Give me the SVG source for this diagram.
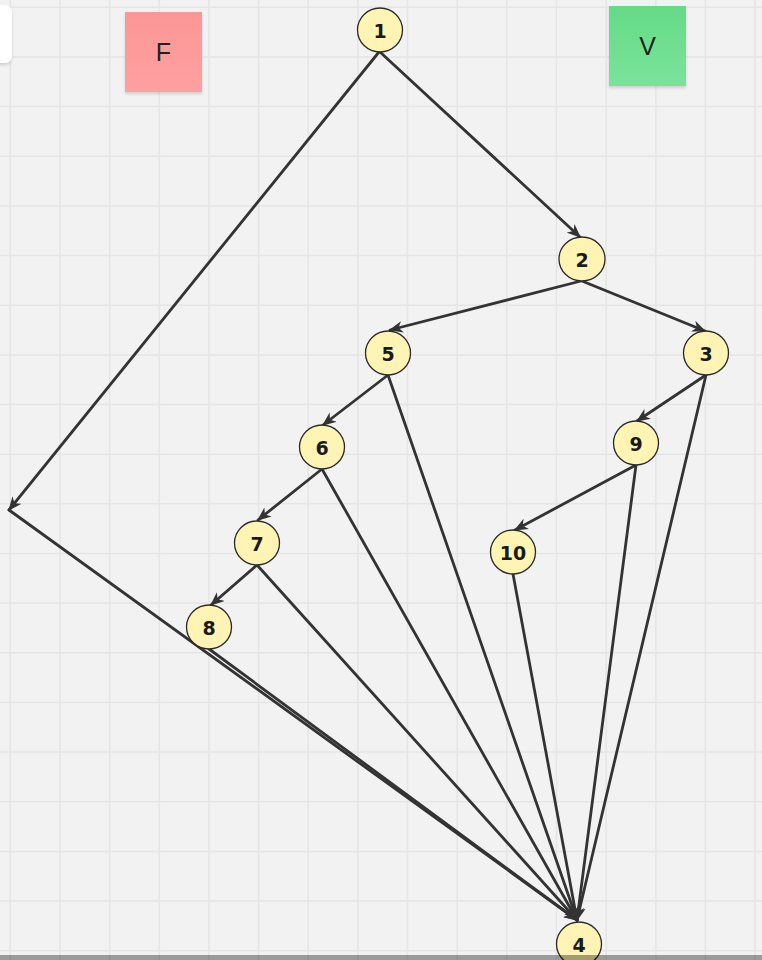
<svg xmlns="http://www.w3.org/2000/svg" width="762" height="960" viewBox="0 0 762 960">
<defs>
<style>
.grid{stroke:#e5e5e5;stroke-width:1.5;fill:none}
.node ellipse{fill:#fff4b3;stroke:#2a2a2a;stroke-width:1.3}
.node text{font-family:"DejaVu Sans",sans-serif;font-weight:bold;font-size:19px;fill:#1a1a1a;text-anchor:middle;dominant-baseline:central}
.sticky text{font-family:"Liberation Sans",Arial,sans-serif;font-size:25px;fill:#222;text-anchor:middle;dominant-baseline:central}
#edges path{fill:none;stroke:#333;stroke-width:2.8;stroke-linecap:round}
.arr{marker-end:url(#ah)}
</style>
<marker id="ah" markerUnits="userSpaceOnUse" viewBox="0 0 12 10" refX="11" refY="5" markerWidth="14" markerHeight="12" orient="auto">
<path d="M0,0 L12,5 L0,10 L3.5,5 Z" fill="#333"/>
</marker>
<linearGradient id="gF" x1="0" y1="0" x2="0" y2="1"><stop offset="0" stop-color="#fb9696"/><stop offset="1" stop-color="#ffa0a0"/></linearGradient>
<linearGradient id="gV" x1="0" y1="0" x2="0" y2="1"><stop offset="0" stop-color="#66da87"/><stop offset="1" stop-color="#79e39a"/></linearGradient>
<filter id="sh" x="-20%" y="-20%" width="140%" height="150%"><feDropShadow dx="0" dy="2" stdDeviation="1.5" flood-color="#000" flood-opacity="0.15"/></filter>
</defs>
<rect width="762" height="960" fill="#f2f2f2"/>
<path class="grid" d="M10.3,0V960M60,0V960M109.6,0V960M159.3,0V960M208.9,0V960M258.6,0V960M308.2,0V960M357.9,0V960M407.5,0V960M457.2,0V960M506.8,0V960M556.5,0V960M606.1,0V960M655.8,0V960M705.4,0V960M755,0V960M0,7.3H762M0,57H762M0,106.6H762M0,156.3H762M0,205.9H762M0,255.6H762M0,305.2H762M0,354.9H762M0,404.5H762M0,454.2H762M0,503.8H762M0,553.5H762M0,603.1H762M0,652.8H762M0,702.4H762M0,752H762M0,801.7H762M0,851.4H762M0,901H762M0,950.7H762"/>
<rect x="-10" y="5" width="22" height="58" rx="7" fill="#fff" filter="url(#sh)"/>
<g id="stickyF" class="sticky"><rect x="125" y="12" width="77" height="80" fill="url(#gF)" filter="url(#sh)"/><text x="163.5" y="52">F</text></g>
<g id="stickyV" class="sticky"><rect x="609" y="6" width="77" height="80" fill="url(#gV)" filter="url(#sh)"/><text x="647.5" y="46">V</text></g>
<g id="edges">
<path class="arr" d="M379,52 L9,510"/>
<path class="arr" d="M9,510 L577,920"/>
<path class="arr" d="M380,52 L580,237"/>
<path class="arr" d="M581,281 L390,330"/>
<path class="arr" d="M582,281 L705,331"/>
<path class="arr" d="M388,375 L323,425"/>
<path class="arr" d="M388,375 L577,920"/>
<path class="arr" d="M706,375 L637,421"/>
<path class="arr" d="M706,375 L577,920"/>
<path class="arr" d="M322,469 L258,520"/>
<path class="arr" d="M322,469 L577,920"/>
<path class="arr" d="M636,465 L515,530"/>
<path class="arr" d="M636,465 L577,920"/>
<path class="arr" d="M257,565 L211,605"/>
<path class="arr" d="M257,565 L577,920"/>
<path class="arr" d="M209,649 L577,920"/>
<path class="arr" d="M513,574 L577,920"/>
</g>
<g id="n1" class="node"><ellipse cx="380" cy="30" rx="22.5" ry="22"/><text x="380" y="31">1</text></g>
<g id="n2" class="node"><ellipse cx="582" cy="259" rx="23" ry="22"/><text x="582" y="260">2</text></g>
<g id="n3" class="node"><ellipse cx="706" cy="353" rx="22.5" ry="22"/><text x="706" y="354">3</text></g>
<g id="n5" class="node"><ellipse cx="388" cy="353" rx="22.5" ry="22"/><text x="388" y="354">5</text></g>
<g id="n6" class="node"><ellipse cx="322" cy="447" rx="22.5" ry="22"/><text x="322" y="448">6</text></g>
<g id="n7" class="node"><ellipse cx="257" cy="543" rx="22.5" ry="22"/><text x="257" y="544">7</text></g>
<g id="n8" class="node"><ellipse cx="209" cy="627" rx="22.5" ry="22"/><text x="209" y="628">8</text></g>
<g id="n9" class="node"><ellipse cx="636" cy="443" rx="22.5" ry="22"/><text x="636" y="444">9</text></g>
<g id="n10" class="node"><ellipse cx="513" cy="552" rx="22.5" ry="22"/><text x="513" y="553">10</text></g>
<g id="n4" class="node"><ellipse cx="579" cy="944" rx="22.5" ry="22"/><text x="579" y="945">4</text></g>
<rect x="0" y="955" width="762" height="5" fill="#000" opacity="0.36"/>
</svg>
